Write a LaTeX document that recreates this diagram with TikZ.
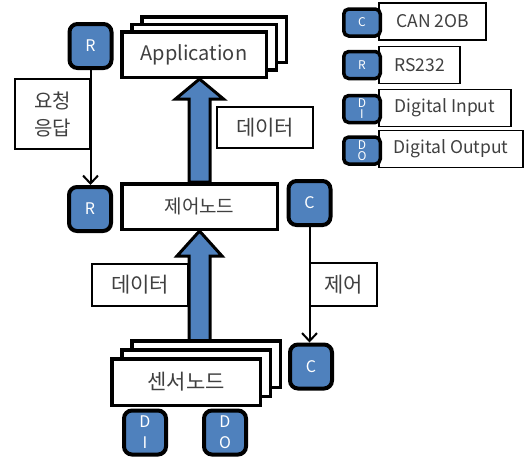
\documentclass[tikz,border=0pt]{standalone}
\usepackage{fontspec}
\setmainfont{Noto Sans CJK KR}
\usetikzlibrary{arrows.meta,shadows,backgrounds,calc}
\definecolor{nodeBlue}{HTML}{4F81BD}
\definecolor{txtGray}{HTML}{404040}

\begin{document}
\begin{tikzpicture}[x=1pt, y=-1pt,
    box/.style={rectangle, draw, line width=3.5pt, fill=white, inner sep=0pt, text=txtGray, font=\fontsize{19}{20}\selectfont},
    stack/.style 2 args={box,
        copy shadow={shadow xshift=2*#1, shadow yshift=2*#2, fill=white, draw=black, line width=3.5pt},
        copy shadow={shadow xshift=#1, shadow yshift=#2, fill=white, draw=black, line width=3.5pt}},
    port/.style={rectangle, rounded corners=8pt, draw, line width=4pt, fill=nodeBlue, text=white, inner sep=0pt,
        minimum width=42pt, minimum height=44pt, font=\fontsize{16}{21}\selectfont, align=center},
    key/.style={port, rounded corners=5pt, line width=3.5pt, minimum width=36.5pt, minimum height=27pt, font=\fontsize{12}{11}\selectfont},
    tag/.style={rectangle, draw, line width=1.2pt, fill=white, inner sep=0pt, text=txtGray, font=\fontsize{20}{27}\selectfont, align=center},
    legend/.style={tag, minimum height=37pt, font=\fontsize{17.5}{19}\selectfont},
    link/.style={line width=2pt, -{Straight Barb[length=8pt, width=15pt]}},
    bigArrow/.style={draw, line width=3pt, fill=nodeBlue, line join=miter}
]
\useasboundingbox (0,0) rectangle (529,467);

% Nodes
\node[stack={10pt}{7.5pt}, minimum width=144.5pt, minimum height=45.5pt, font=\fontsize{20}{20}\selectfont] (app) at (194,54.5) {Application};
\node[port] (rTop) at (90.5,46) {R};
\node[tag, minimum width=75pt, minimum height=70pt] (reqTag) at (52.5,114) {요청\\응답};
\node[tag, minimum width=96pt, minimum height=41pt, font=\fontsize{21}{21}\selectfont] (dataUp) at (265,127.5) {데이터};

\node[box, minimum width=155.5pt, minimum height=45.5pt] (ctrl) at (199.5,206.5) {제어노드};
\node[port] (rMid) at (90,209) {R};
\node[port] (cMid) at (309.5,203) {C};
\node[tag, minimum width=96pt, minimum height=42pt, font=\fontsize{21}{21}\selectfont] (dataLow) at (140,285) {데이터};
\node[tag, minimum width=67pt, minimum height=43pt, font=\fontsize{21}{21}\selectfont] (ctrlTag) at (343.5,284.5) {제어};

\node[stack={10pt}{9pt}, minimum width=148.5pt, minimum height=46.5pt, font=\fontsize{21}{21}\selectfont] (sensor) at (186,382) {센서노드};
\node[port] (cLow) at (311,366.5) {C};
\node[port] (di) at (145,432.5) {D\\I};
\node[port] (do) at (225,432.5) {D\\O};

% Legend
\node[legend, minimum width=107pt] (canTag) at (432.5,21.5) {CAN 2OB};
\node[key] (canKey) at (362,22.5) {C};
\node[legend, minimum width=81pt] (rsTag) at (419.5,65) {RS232};
\node[key] (rsKey) at (362,65) {R};
\node[legend, minimum width=132pt] (diTag) at (445,108) {Digital Input};
\node[key] (diKey) at (362,109) {D\\I};
\node[legend, minimum width=144pt] (doTag) at (451,149) {Digital Output};
\node[key] (doKey) at (362,150.5) {D\\O};

% Connections
\draw[link] (rTop.south) -- (rTop.south |- rMid.north);
\draw[link] (cMid.south) -- (cMid.south |- cLow.north);

\begin{pgfonlayer}{background}
\draw[bigArrow] let \p1=(ctrl.north), \p2=(app.south) in
    (\x1-10.5pt,\y1) -- (\x1-10.5pt,\y2-20pt) -- (\x1-24pt,\y2-20pt) -- (\x1,\y2)
    -- (\x1+24pt,\y2-20pt) -- (\x1+10.5pt,\y2-20pt) -- (\x1+10.5pt,\y1) -- cycle;
\draw[bigArrow] let \p1=(sensor.north), \p2=(ctrl.south) in
    (\x2-10.5pt,\y1) -- (\x2-10.5pt,\y2-25pt) -- (\x2-22.5pt,\y2-25pt) -- (\x2,\y2)
    -- (\x2+22.5pt,\y2-25pt) -- (\x2+10.5pt,\y2-25pt) -- (\x2+10.5pt,\y1) -- cycle;
\end{pgfonlayer}

\end{tikzpicture}
\end{document}
